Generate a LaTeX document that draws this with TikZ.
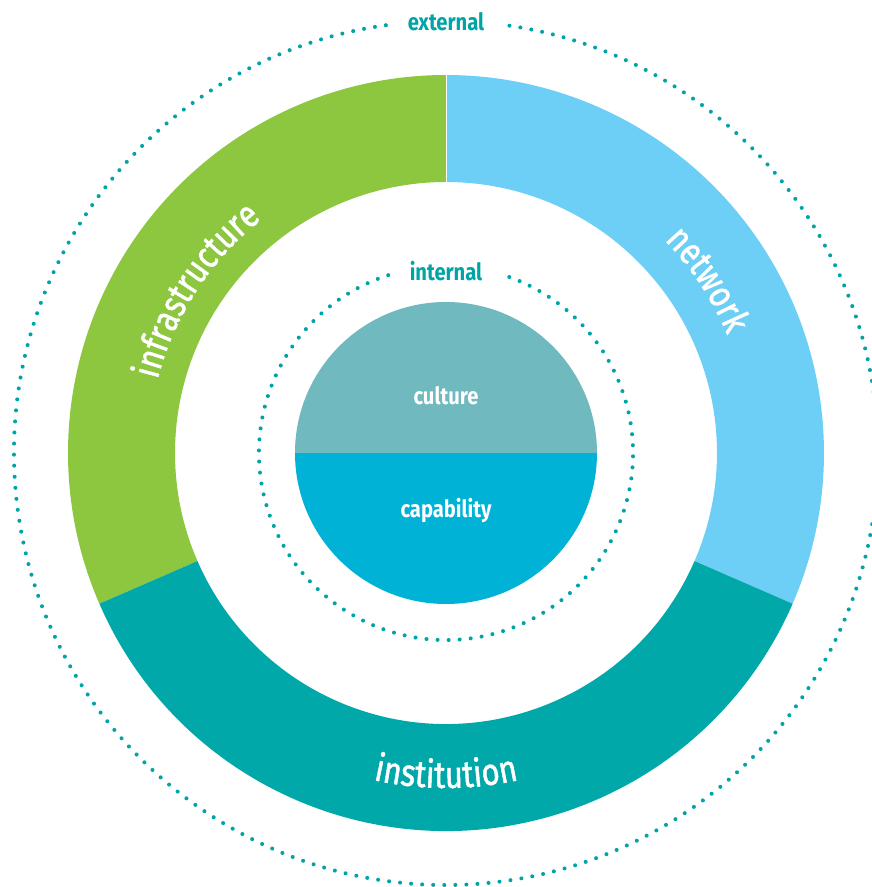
\documentclass[tikz,border=0pt]{standalone}
\usepackage{fontspec}
\setmainfont{Fira Sans}
\newfontfamily\ringfont[FakeStretch=0.85]{Fira Sans}
\newfontfamily\arcfont[FakeStretch=0.82,FakeBold=1.2]{Fira Sans}
\usetikzlibrary{decorations.text}

\definecolor{infragreen}{HTML}{8DC63F}
\definecolor{netblue}{HTML}{6DCFF6}
\definecolor{instteal}{HTML}{00A8AA}
\definecolor{culturegrey}{HTML}{6FB9BF}
\definecolor{capablue}{HTML}{00B2D6}
\definecolor{dotteal}{HTML}{00A3A6}

\tikzset{
  dotring/.style={draw=dotteal,line width=2.3pt,line cap=round,dash pattern=on 0pt off 6.3pt},
  ringlabel/.style={decorate,decoration={text along path,text align=center,text color=white,
      text={|\arcfont\fontsize{21.5}{21.5}\selectfont|#1}}},
  looplabel/.style={text=dotteal,font=\ringfont\fontsize{13.5}{13.5}\selectfont\bfseries,inner sep=0},
  corelabel/.style={text=white,font=\ringfont\fontsize{13.5}{13.5}\selectfont\bfseries,inner sep=0}
}

\begin{document}
\begin{tikzpicture}
    \pgfmathsetmacro{\ringouter}{7.56}
    \pgfmathsetmacro{\ringinner}{5.42}
    \pgfmathsetmacro{\dotouter}{8.64}
    \pgfmathsetmacro{\dotinner}{3.74}
    \pgfmathsetmacro{\coreradius}{3.02}
    \useasboundingbox (-8.92,-8.68) rectangle (8.52,9.06);
    % the three ring segments
    \fill[infragreen] (90:\ringouter) arc[start angle=90,end angle=203.5,radius=\ringouter]
        -- (203.5:\ringinner) arc[start angle=203.5,end angle=90,radius=\ringinner] -- cycle;
    \fill[netblue] (-23.5:\ringouter) arc[start angle=-23.5,end angle=90,radius=\ringouter]
        -- (90:\ringinner) arc[start angle=90,end angle=-23.5,radius=\ringinner] -- cycle;
    \fill[instteal] (203.5:\ringouter) arc[start angle=203.5,end angle=336.5,radius=\ringouter]
        -- (336.5:\ringinner) arc[start angle=336.5,end angle=203.5,radius=\ringinner] -- cycle;
    \draw[white,line width=0.4pt] (90:\ringinner) -- (90:\ringouter);
    % core disk, two halves
    \fill[culturegrey] (0:\coreradius) arc[start angle=0,end angle=180,radius=\coreradius] -- cycle;
    \fill[capablue] (180:\coreradius) arc[start angle=180,end angle=360,radius=\coreradius] -- cycle;
    % dotted loops with a gap for the label
    \draw[dotring] (98:\dotouter) arc[start angle=98,end angle=442,radius=\dotouter];
    \draw[dotring] (108:\dotinner) arc[start angle=108,end angle=432,radius=\dotinner];
    \node[looplabel] (external) at (0,8.62) {external};
    \node[looplabel] (internal) at (0,3.63) {internal};
    \node[corelabel] (culture) at (0,1.14) {culture};
    \node[corelabel] (capability) at (0,-1.16) {capability};
    % curved ring names
    \path[ringlabel=infrastructure] (187:5.95) arc[start angle=187,end angle=107,radius=5.95];
    \path[ringlabel=network] (73.5:6.1) arc[start angle=73.5,end angle=-6.5,radius=6.1];
    \path[ringlabel=institution] (230:6.7) arc[start angle=230,end angle=310,radius=6.7];
\end{tikzpicture}
\end{document}
